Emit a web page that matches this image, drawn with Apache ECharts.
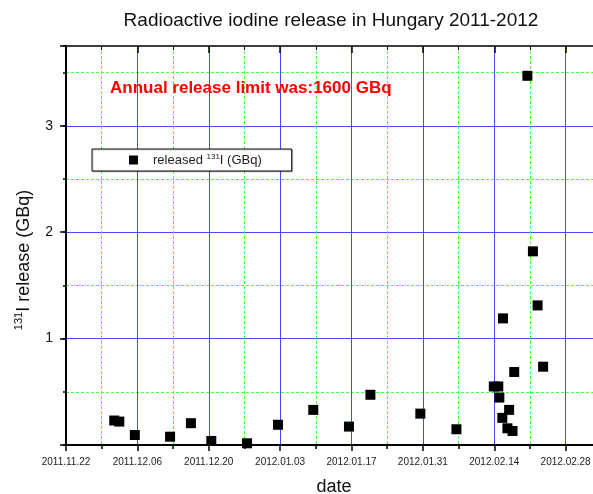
<!DOCTYPE html>
<html>
<head>
<meta charset="utf-8">
<script src="https://cdn.jsdelivr.net/npm/echarts@6/dist/echarts.min.js"></script>
<style>
html,body{margin:0;padding:0;background:#fff;}
#chart{width:593px;height:494px;}
</style>
</head>
<body>
<div id="chart"></div>
<script>
// ---- data ----
const releaseDates = [
  '2011-12-01 11:00','2011-12-02 11:00','2011-12-05 12:00','2011-12-12 10:00',
  '2011-12-16 12:00','2011-12-20 12:00','2011-12-27 12:00','2012-01-02 14:00',
  '2012-01-09 12:00','2012-01-16 12:00','2012-01-20 17:00','2012-01-30 12:00',
  '2012-02-06 14:00','2012-02-13 22:00','2012-02-14 19:00','2012-02-15 00:00',
  '2012-02-15 17:00','2012-02-15 14:00','2012-02-16 14:00','2012-02-16 22:00',
  '2012-02-17 14:00','2012-02-17 22:00','2012-02-20 12:00','2012-02-21 14:00',
  '2012-02-22 12:00','2012-02-23 14:00'
];
const releaseGBq = [
  0.23, 0.22, 0.094, 0.078,
  0.205, 0.038, 0.016, 0.19,
  0.33, 0.173, 0.472, 0.295,
  0.148, 0.55, 0.55, 0.446,
  1.19, 0.255, 0.157, 0.33,
  0.132, 0.686, 3.47, 1.82,
  1.312, 0.736
];
const axisStartDate = '2011-11-22 00:00';
const yTickLabels = ['1', '2', '3'];
const seriesName = 'released 131I (GBq)';
const titleText = 'Radioactive iodine release in Hungary 2011-2012';
const noteText = 'Annual release limit was:1600 GBq';

// ---- helpers ----
const DAY = 86400000;
function toMs(s) { return Date.parse(s.replace(' ', 'T') + ':00Z'); }
const START = toMs(axisStartDate);
function dayOffset(s) { return (toMs(s) - START) / DAY; }
function pad(n) { return (n < 10 ? '0' : '') + n; }
function fmtDay(v) {
  if (Math.abs(v % 14) > 1e-6) return '';
  const d = new Date(START + v * DAY);
  return d.getUTCFullYear() + '.' + pad(d.getUTCMonth() + 1) + '.' + pad(d.getUTCDate());
}
const points = releaseDates.map((d, i) => [dayOffset(d), releaseGBq[i]]);

const FONT = '"Liberation Sans", Arial, sans-serif';
const BLUE = '#4848ff';
const GREEN = '#44ff44';

const chart = echarts.init(document.getElementById('chart'), null, {renderer: 'canvas'});
chart.setOption({
  animation: false,
  backgroundColor: '#ffffff',
  grid: {left: 66, top: 46, bottom: 49, right: -44, containLabel: false, outerBoundsMode: 'none'},
  xAxis: [
    {
      type: 'value', position: 'bottom', min: 0, max: 112, interval: 14, z: 3,
      axisLine: {show: true, onZero: false, lineStyle: {color: '#000', width: 2}},
      axisTick: {show: true, inside: false, length: 6, lineStyle: {color: '#000', width: 1.5}},
      minorTick: {show: true, splitNumber: 2, length: 4, lineStyle: {color: '#000', width: 1.5}},
      axisLabel: {show: true, formatter: fmtDay, fontSize: 10, color: '#222', fontFamily: FONT, margin: 12},
      splitLine: {show: true, showMinLine: false, showMaxLine: false, lineStyle: {color: BLUE, width: 1}},
      minorSplitLine: {show: true, lineStyle: {color: GREEN, width: 1, type: [3, 2]}}
    },
    {
      type: 'value', position: 'top', min: 0, max: 112, interval: 14, z: 3,
      axisLine: {show: true, onZero: false, lineStyle: {color: '#000', width: 1.5}},
      axisTick: {show: true, inside: true, length: 7, lineStyle: {color: '#000', width: 1.5}},
      minorTick: {show: true, splitNumber: 2, length: 4, lineStyle: {color: '#000', width: 1}},
      axisLabel: {show: false},
      splitLine: {show: false}
    }
  ],
  yAxis: [
    {
      type: 'value', position: 'left', min: 0, max: 3.75, interval: 0.5, z: 1,
      axisLine: {show: false, onZero: false},
      axisTick: {show: true, inside: false, length: 3, lineStyle: {color: '#000', width: 1.5}},
      axisLabel: {show: false},
      splitLine: {show: true, showMinLine: false, showMaxLine: false, lineStyle: {color: GREEN, width: 1, type: [3, 2]}}
    },
    {
      type: 'value', position: 'left', min: 0, max: 3.75, interval: 1, z: 2,
      axisLine: {show: true, onZero: false, lineStyle: {color: '#000', width: 2}},
      axisTick: {show: true, inside: false, length: 6, lineStyle: {color: '#000', width: 1.5}},
      axisLabel: {
        show: true, fontSize: 14, color: '#111', fontFamily: FONT, margin: 13,
        formatter: v => (yTickLabels.indexOf(String(v)) >= 0 ? String(v) : '')
      },
      splitLine: {show: true, showMinLine: false, showMaxLine: false, lineStyle: {color: BLUE, width: 1}}
    }
  ],
  legend: {
    show: true, left: 92, top: 149, orient: 'horizontal',
    padding: [4, 30, 4, 37],
    backgroundColor: '#fff', borderColor: '#000', borderWidth: 1, borderRadius: 0,
    shadowColor: 'rgba(0,0,0,0.2)', shadowOffsetX: 1, shadowOffsetY: 1, shadowBlur: 0,
    itemWidth: 9, itemHeight: 9, icon: 'rect',
    itemStyle: {color: '#000', opacity: 1},
    data: [seriesName],
    formatter: () => 'released {sup|131}I (GBq)',
    textStyle: {
      fontSize: 13, color: '#222', fontFamily: FONT, padding: [0, 0, 0, 10], lineHeight: 14,
      rich: {sup: {fontSize: 8, fontFamily: FONT, color: '#222', verticalAlign: 'top', lineHeight: 8}}
    }
  },
  graphic: [
    {
      type: 'text', x: 331, y: 21, z: 10,
      style: {text: titleText, fontSize: 19, fontFamily: FONT, fill: '#111', align: 'center', verticalAlign: 'middle', textAlign: 'center', textVerticalAlign: 'middle'}
    },
    {
      type: 'text', x: 110, y: 88, z: 10,
      style: {text: noteText, fontSize: 17, fontWeight: 'bold', fontFamily: FONT, fill: '#ff0000', align: 'left', verticalAlign: 'middle', textAlign: 'left', textVerticalAlign: 'middle'}
    },
    {
      type: 'text', x: 334, y: 487, z: 10,
      style: {text: 'date', fontSize: 18, fontFamily: FONT, fill: '#111', align: 'center', verticalAlign: 'middle', textAlign: 'center', textVerticalAlign: 'middle'}
    },
    {
      type: 'text', x: 24, y: 260, rotation: Math.PI / 2, z: 10,
      style: {
        text: '{sup|131}{m|I release (GBq)}', fontSize: 18, fontFamily: FONT, fill: '#111',
        align: 'center', verticalAlign: 'middle', textAlign: 'center', textVerticalAlign: 'middle',
        rich: {
          sup: {fontSize: 11, fontFamily: FONT, fill: '#111', verticalAlign: 'top', lineHeight: 12},
          m: {fontSize: 18, fontFamily: FONT, fill: '#111', lineHeight: 22}
        }
      }
    }
  ],
  series: [{
    name: seriesName,
    type: 'scatter',
    xAxisIndex: 0,
    yAxisIndex: 1,
    symbol: 'rect',
    symbolSize: 10,
    itemStyle: {color: '#000', opacity: 1},
    data: points,
    z: 5
  }]
});
</script>
</body>
</html>
